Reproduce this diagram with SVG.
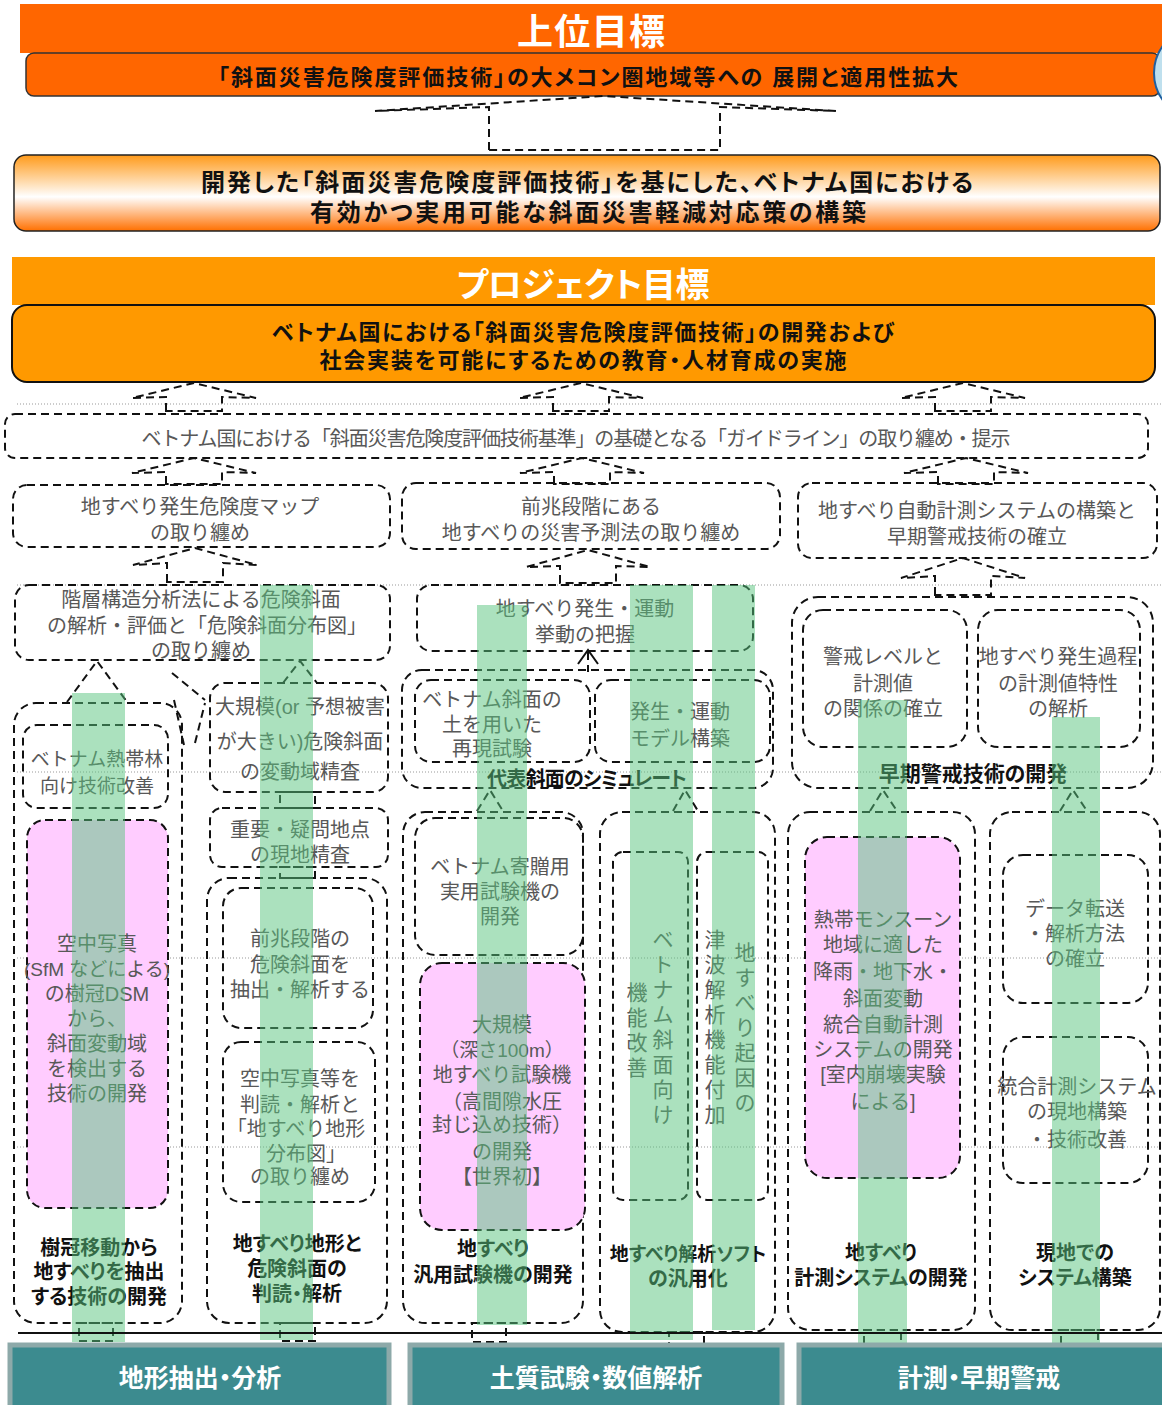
<svg xmlns="http://www.w3.org/2000/svg" width="1162" height="1405" viewBox="0 0 1162 1405">
<defs>
<style>
.d{fill:none;stroke:#111;stroke-width:2;stroke-dasharray:8 5}
.pk{fill:#ffccff;stroke:#111;stroke-width:2;stroke-dasharray:8 5}
.dot{stroke:#999;stroke-width:1;stroke-dasharray:1 2}
.t{font-family:"Liberation Sans","Noto Sans CJK JP",sans-serif;font-size:20px;fill:#585858;text-anchor:middle;dominant-baseline:central;transform:translate(0px,2px)}
.b{font-weight:bold;fill:#111;font-feature-settings:"palt"}
.w{fill:#fff}
.s19{font-size:19px}
.s21{font-size:21px}
.s22{font-size:22px}
.s24{font-size:24px}
.s25{font-size:25px}
.s34{font-size:34px}
.s36{font-size:36px}
.band{fill:#58c47e;fill-opacity:0.5}
.bar{fill:#3c8b8f;stroke:#8da9a9;stroke-width:5}
</style>
<linearGradient id="g2" x1="0" y1="0" x2="0" y2="1">
<stop offset="0" stop-color="#ff9a1a"/>
<stop offset="0.55" stop-color="#ffffff"/>
<stop offset="1" stop-color="#ff7000"/>
</linearGradient>
</defs>
<rect width="1162" height="1405" fill="#fff"/>
<g id="gridlines">
<line class="dot" x1="17" y1="404" x2="1162" y2="404"/>
<line class="dot" x1="17" y1="585" x2="1162" y2="585"/>
<line class="dot" x1="17" y1="772" x2="1162" y2="772"/>
<line class="dot" x1="17" y1="958" x2="1162" y2="958"/>
<line class="dot" x1="17" y1="1147" x2="1162" y2="1147"/>
</g>
<g id="upper-goal">
<rect x="20" y="4" width="1142" height="49" fill="#ff6600"/>
<text class="t b w s36" x="591" y="30" textLength="148">上位目標</text>
<rect x="26" y="53" width="1134" height="43" rx="8" fill="#ff6600" stroke="#333" stroke-width="1.5"/>
<text class="t b s22" x="588" y="75" textLength="740">「斜面災害危険度評価技術」の大メコン圏地域等への 展開と適用性拡大</text>
<circle cx="1200" cy="73" r="46" fill="#bfe0ee" stroke="#2060a0" stroke-width="2"/>
</g>
<g id="overall-goal">
<rect x="14" y="155" width="1146" height="76" rx="12" fill="url(#g2)" stroke="#222" stroke-width="1.5"/>
<text class="t b s24"><tspan x="587" y="180" textLength="772">開発した「斜面災害危険度評価技術」を基にした、ベトナム国における</tspan><tspan x="588" y="210" textLength="556">有効かつ実用可能な斜面災害軽減対応策の構築</tspan></text>
</g>
<g id="project-goal">
<rect x="12" y="257" width="1143" height="48" fill="#ff9900"/>
<text class="t b w s34" x="583" y="283" textLength="253">プロジェクト目標</text>
<rect x="12" y="305" width="1143" height="77" rx="15" fill="#ff9900" stroke="#111" stroke-width="2"/>
<text class="t b s22"><tspan x="583" y="330" textLength="622">ベトナム国における「斜面災害危険度評価技術」の開発および</tspan><tspan x="583" y="358" textLength="527">社会実装を可能にするための教育・人材育成の実施</tspan></text>
</g>
<g id="guideline">
<rect class="d" x="5" y="414" width="1143" height="44" rx="10"/>
<text class="t" x="576" y="437" textLength="869">ベトナム国における「斜面災害危険度評価技術基準」の基礎となる「ガイドライン」の取り纏め・提示</text>
</g>
<g id="map">
<rect class="d" x="13" y="485" width="377" height="62" rx="14"/>
<text class="t"><tspan x="200" y="505">地すべり発生危険度マップ</tspan><tspan x="200" y="531">の取り纏め</tspan></text>
</g>
<g id="prediction">
<rect class="d" x="402" y="483" width="378" height="66" rx="14"/>
<text class="t"><tspan x="591" y="505">前兆段階にある</tspan><tspan x="591" y="531">地すべりの災害予測法の取り纏め</tspan></text>
</g>
<g id="monitoring">
<rect class="d" x="798" y="483" width="359" height="75" rx="14"/>
<text class="t"><tspan x="977" y="509">地すべり自動計測システムの構築と</tspan><tspan x="977" y="535">早期警戒技術の確立</tspan></text>
</g>
<g id="hierarchy">
<rect class="d" x="15" y="585" width="375" height="75" rx="14"/>
<text class="t"><tspan x="201" y="598">階層構造分析法による危険斜面</tspan><tspan x="207" y="624">の解析・評価と「危険斜面分布図」</tspan><tspan x="201" y="649">の取り纏め</tspan></text>
</g>
<g id="behavior">
<rect class="d" x="417" y="585" width="336" height="66" rx="14"/>
<text class="t"><tspan x="585" y="607">地すべり発生・運動</tspan><tspan x="585" y="633">挙動の把握</tspan></text>
</g>
<g id="simulate">
<rect class="d" x="402" y="670" width="371" height="118" rx="20"/>
<rect class="d" x="415" y="680" width="175" height="82" rx="16"/>
<text class="t"><tspan x="492" y="698">ベトナム斜面の</tspan><tspan x="492" y="723">土を用いた</tspan><tspan x="492" y="747">再現試験</tspan></text>
<rect class="d" x="595" y="680" width="175" height="82" rx="16"/>
<text class="t"><tspan x="680" y="710">発生・運動</tspan><tspan x="680" y="737">モデル構築</tspan></text>
<text class="t b" x="587" y="777" textLength="200">代表斜面のシミュレート</text>
</g>
<g id="early-warning">
<rect class="d" x="792" y="597" width="361" height="191" rx="26"/>
<rect class="d" x="803" y="610" width="164" height="137" rx="20"/>
<text class="t"><tspan x="883" y="655">警戒レベルと</tspan><tspan x="883" y="682">計測値</tspan><tspan x="883" y="707">の関係の確立</tspan></text>
<rect class="d" x="978" y="610" width="162" height="137" rx="20"/>
<text class="t"><tspan x="1058" y="655">地すべり発生過程</tspan><tspan x="1058" y="682">の計測値特性</tspan><tspan x="1058" y="707">の解析</tspan></text>
<text class="t b s21" x="973" y="771">早期警戒技術の開発</text>
</g>
<g id="col1">
<rect class="d" x="14" y="703" width="168" height="620" rx="22"/>
<rect class="d" x="23" y="725" width="145" height="83" rx="14"/>
<text class="t s19"><tspan x="97" y="757">ベトナム熱帯林</tspan><tspan x="97" y="784">向け技術改善</tspan></text>
<rect class="pk" x="27" y="820" width="141" height="388" rx="18"/>
<text class="t"><tspan x="97" y="942">空中写真</tspan><tspan x="97" y="967" class="s19">(SfM などによる)</tspan><tspan x="97" y="992">の樹冠DSM</tspan><tspan x="97" y="1017">から、</tspan><tspan x="97" y="1042">斜面変動域</tspan><tspan x="97" y="1067">を検出する</tspan><tspan x="97" y="1092">技術の開発</tspan></text>
<text class="t b"><tspan x="99" y="1246">樹冠移動から</tspan><tspan x="99" y="1270">地すべりを抽出</tspan><tspan x="99" y="1295">する技術の開発</tspan></text>
</g>
<g id="col2">
<rect class="d" x="210" y="683" width="178" height="109" rx="15"/>
<text class="t"><tspan x="300" y="705">大規模(or 予想被害</tspan><tspan x="300" y="740">が大きい)危険斜面</tspan><tspan x="300" y="770">の変動域精査</tspan></text>
<rect class="d" x="210" y="808" width="178" height="59" rx="12"/>
<text class="t"><tspan x="300" y="828">重要・疑問地点</tspan><tspan x="300" y="853">の現地精査</tspan></text>
<rect class="d" x="207" y="878" width="180" height="445" rx="22"/>
<rect class="d" x="223" y="888" width="150" height="140" rx="18"/>
<text class="t"><tspan x="300" y="937">前兆段階の</tspan><tspan x="300" y="963">危険斜面を</tspan><tspan x="300" y="988">抽出・解析する</tspan></text>
<rect class="d" x="223" y="1042" width="152" height="160" rx="18"/>
<text class="t"><tspan x="300" y="1077">空中写真等を</tspan><tspan x="300" y="1103">判読・解析と</tspan><tspan x="296" y="1127">「地すべり地形</tspan><tspan x="306" y="1152">分布図」</tspan><tspan x="300" y="1175">の取り纏め</tspan></text>
<text class="t b"><tspan x="297" y="1242">地すべり地形と</tspan><tspan x="297" y="1267">危険斜面の</tspan><tspan x="297" y="1292">判読・解析</tspan></text>
</g>
<g id="col3">
<rect class="d" x="403" y="812" width="180" height="511" rx="22"/>
<rect class="d" x="415" y="818" width="168" height="137" rx="20"/>
<text class="t"><tspan x="500" y="865">ベトナム寄贈用</tspan><tspan x="500" y="890">実用試験機の</tspan><tspan x="500" y="915">開発</tspan></text>
<rect class="pk" x="420" y="963" width="165" height="267" rx="22"/>
<text class="t"><tspan x="502" y="1023">大規模</tspan><tspan x="502" y="1048" class="s19">（深さ100m）</tspan><tspan x="502" y="1073">地すべり試験機</tspan><tspan x="502" y="1100">（高間隙水圧</tspan><tspan x="502" y="1123">封じ込め技術）</tspan><tspan x="502" y="1150">の開発</tspan><tspan x="502" y="1175">【世界初】</tspan></text>
<text class="t b"><tspan x="493" y="1247">地すべり</tspan><tspan x="493" y="1273">汎用試験機の開発</tspan></text>
</g>
<g id="col4">
<rect class="d" x="600" y="812" width="175" height="520" rx="22"/>
<rect class="d" x="613" y="852" width="75" height="348" rx="10"/>
<rect class="d" x="697" y="852" width="71" height="348" rx="10"/>
<text class="t s21"><tspan x="663" y="937">ベ</tspan><tspan x="663" y="962">ト</tspan><tspan x="663" y="987">ナ</tspan><tspan x="663" y="1012">ム</tspan><tspan x="663" y="1037">斜</tspan><tspan x="663" y="1062">面</tspan><tspan x="663" y="1087">向</tspan><tspan x="663" y="1112">け</tspan><tspan x="637" y="990">機</tspan><tspan x="637" y="1015">能</tspan><tspan x="637" y="1040">改</tspan><tspan x="637" y="1065">善</tspan></text>
<text class="t s21"><tspan x="745" y="950">地</tspan><tspan x="745" y="975">す</tspan><tspan x="745" y="1000">べ</tspan><tspan x="745" y="1025">り</tspan><tspan x="745" y="1050">起</tspan><tspan x="745" y="1075">因</tspan><tspan x="745" y="1100">の</tspan><tspan x="715" y="937">津</tspan><tspan x="715" y="962">波</tspan><tspan x="715" y="987">解</tspan><tspan x="715" y="1012">析</tspan><tspan x="715" y="1037">機</tspan><tspan x="715" y="1062">能</tspan><tspan x="715" y="1087">付</tspan><tspan x="715" y="1112">加</tspan></text>
<text class="t b"><tspan x="688" y="1252" class="s19">地すべり解析ソフト</tspan><tspan x="688" y="1277">の汎用化</tspan></text>
</g>
<g id="col5">
<rect class="d" x="788" y="812" width="187" height="518" rx="22"/>
<rect class="pk" x="805" y="837" width="155" height="341" rx="22"/>
<text class="t"><tspan x="883" y="918">熱帯モンスーン</tspan><tspan x="883" y="943">地域に適した</tspan><tspan x="883" y="970">降雨・地下水・</tspan><tspan x="883" y="997">斜面変動</tspan><tspan x="883" y="1023">統合自動計測</tspan><tspan x="883" y="1048">システムの開発</tspan><tspan x="883" y="1073">[室内崩壊実験</tspan><tspan x="883" y="1100">による]</tspan></text>
<text class="t b"><tspan x="881" y="1251">地すべり</tspan><tspan x="881" y="1276">計測システムの開発</tspan></text>
</g>
<g id="col6">
<rect class="d" x="990" y="812" width="170" height="518" rx="22"/>
<rect class="d" x="1003" y="855" width="145" height="148" rx="20"/>
<text class="t"><tspan x="1075" y="907">データ転送</tspan><tspan x="1075" y="932">・解析方法</tspan><tspan x="1075" y="957">の確立</tspan></text>
<rect class="d" x="1003" y="1037" width="145" height="146" rx="20"/>
<text class="t"><tspan x="1077" y="1085">統合計測システム</tspan><tspan x="1077" y="1110">の現地構築</tspan><tspan x="1077" y="1138">・技術改善</tspan></text>
<text class="t b"><tspan x="1075" y="1251">現地での</tspan><tspan x="1075" y="1276">システム構築</tspan></text>
</g>
<g id="connectors">
<path class="d" d="M489,150 L489,107 L375,111 L604,96 L836,111 L720,107 L720,150 Z"/>
<path class="d" d="M166,411 L166,397 L132,398 L194,383 L256,398 L222,397 L222,411 Z"/>
<path class="d" d="M553,411 L553,397 L519,398 L581,383 L643,398 L609,397 L609,411 Z"/>
<path class="d" d="M935,411 L935,397 L901,398 L963,383 L1025,398 L991,397 L991,411 Z"/>
<path class="d" d="M166,484 L166,472 L132,473 L194,458 L256,473 L222,472 L222,484 Z"/>
<path class="d" d="M554,484 L554,472 L520,473 L582,458 L644,473 L610,472 L610,484 Z"/>
<path class="d" d="M938,484 L938,472 L904,473 L966,458 L1028,473 L994,472 L994,484 Z"/>
<path class="d" d="M167,582 L167,563 L133,565 L195,548 L257,565 L223,563 L223,582 Z"/>
<path class="d" d="M560,583 L560,566 L526,567 L588,550 L650,567 L616,566 L616,583 Z"/>
<path class="d" d="M935,595 L935,576 L901,578 L963,558 L1025,578 L991,576 L991,595 Z"/>
<path class="d" d="M67,702 L97,661 L127,702"/>
<path class="d" d="M283,683 L300,661 L317,683"/>
<path class="d" d="M172,673 L205,700 M174,700 L184,745 M195,743 L205,703"/>
<path fill="none" stroke="#111" stroke-width="2" d="M578,664 L588,650 L598,664"/>
<path class="d" d="M588,652 L588,672"/>
<path class="d" d="M477,811 L490,790 L503,811"/>
<path class="d" d="M673,811 L685,790 L698,811"/>
<path class="d" d="M870,811 L883,790 L897,811"/>
<path class="d" d="M1060,811 L1073,790 L1087,811"/>
<rect class="d" x="280" y="792" width="35" height="16"/>
<rect class="d" x="280" y="867" width="35" height="11"/>
<rect class="d" x="79" y="1323" width="34" height="18"/>
<rect class="d" x="280" y="1323" width="35" height="18"/>
<rect class="d" x="472" y="1323" width="34" height="19"/>
<rect class="d" x="669" y="1332" width="35" height="13"/>
<rect class="d" x="864" y="1330" width="37" height="22"/>
<rect class="d" x="1061" y="1330" width="37" height="22"/>
</g>
<g id="bands">
<rect class="band" x="72" y="693" width="53" height="649"/>
<rect class="band" x="260" y="585" width="53" height="755"/>
<rect class="band" x="477" y="605" width="50" height="720"/>
<rect class="band" x="630" y="585" width="63" height="755"/>
<rect class="band" x="712" y="585" width="43" height="745"/>
<rect class="band" x="858" y="700" width="49" height="647"/>
<rect class="band" x="1052" y="717" width="48" height="635"/>
</g>
<line x1="18" y1="1333" x2="1162" y2="1333" stroke="#111" stroke-width="2"/>
<g id="cat-terrain">
<rect class="bar" x="10" y="1345" width="379" height="64"/>
<text class="t b w s25" x="200" y="1376">地形抽出・分析</text>
</g>
<g id="cat-soil">
<rect class="bar" x="410" y="1345" width="372" height="64"/>
<text class="t b w s25" x="596" y="1376">土質試験・数値解析</text>
</g>
<g id="cat-monitor">
<rect class="bar" x="799" y="1345" width="370" height="64"/>
<text class="t b w s25" x="979" y="1376">計測・早期警戒</text>
</g>
</svg>
